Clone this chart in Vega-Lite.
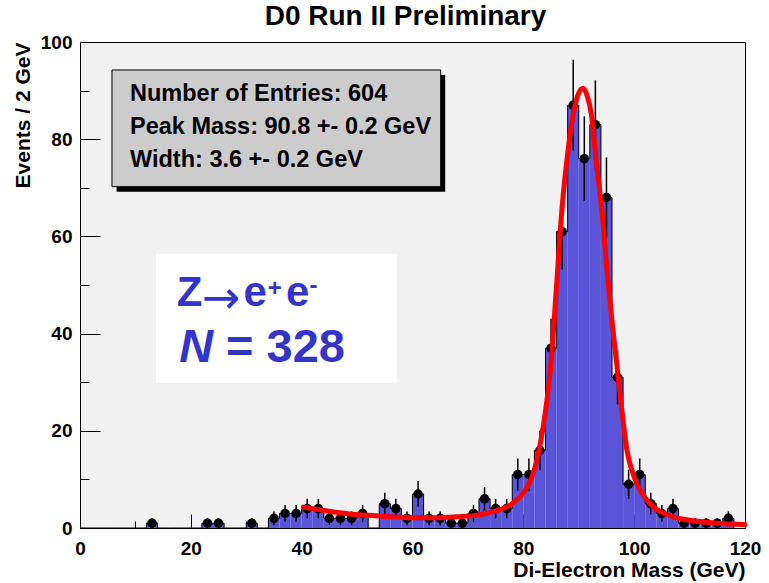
{
  "$schema": "https://vega.github.io/schema/vega-lite/v6.json",
  "width": 665,
  "height": 486,
  "autosize": {"type": "none"},
  "padding": {"left": 80, "top": 42, "right": 24, "bottom": 55},
  "background": "white",
  "config": {
    "view": {"fill": "#f1f1f1", "stroke": "black", "strokeWidth": 1},
    "font": "Liberation Sans"
  },
  "title": {
    "text": "D0 Run II Preliminary",
    "font": "Liberation Sans",
    "fontSize": 28,
    "fontWeight": "bold",
    "color": "black",
    "anchor": "middle",
    "frame": "group",
    "dx": -7,
    "offset": 2
  },
  "datasets": {
    "bins": [
      {"lo": 0, "hi": 2, "c": 1, "n": 0, "elo": 0, "ehi": 0},
      {"lo": 2, "hi": 4, "c": 3, "n": 0, "elo": 0, "ehi": 0},
      {"lo": 4, "hi": 6, "c": 5, "n": 0, "elo": 0, "ehi": 0},
      {"lo": 6, "hi": 8, "c": 7, "n": 0, "elo": 0, "ehi": 0},
      {"lo": 8, "hi": 10, "c": 9, "n": 0, "elo": 0, "ehi": 0},
      {"lo": 10, "hi": 12, "c": 11, "n": 0, "elo": 0, "ehi": 0},
      {"lo": 12, "hi": 14, "c": 13, "n": 1, "elo": 0, "ehi": 2},
      {"lo": 14, "hi": 16, "c": 15, "n": 0, "elo": 0, "ehi": 0},
      {"lo": 16, "hi": 18, "c": 17, "n": 0, "elo": 0, "ehi": 0},
      {"lo": 18, "hi": 20, "c": 19, "n": 0, "elo": 0, "ehi": 0},
      {"lo": 20, "hi": 22, "c": 21, "n": 0, "elo": 0, "ehi": 0},
      {"lo": 22, "hi": 24, "c": 23, "n": 1, "elo": 0, "ehi": 2},
      {"lo": 24, "hi": 26, "c": 25, "n": 1, "elo": 0, "ehi": 2},
      {"lo": 26, "hi": 28, "c": 27, "n": 0, "elo": 0, "ehi": 0},
      {"lo": 28, "hi": 30, "c": 29, "n": 0, "elo": 0, "ehi": 0},
      {"lo": 30, "hi": 32, "c": 31, "n": 1, "elo": 0, "ehi": 2},
      {"lo": 32, "hi": 34, "c": 33, "n": 0, "elo": 0, "ehi": 0},
      {"lo": 34, "hi": 36, "c": 35, "n": 2, "elo": 0.59, "ehi": 3.41},
      {"lo": 36, "hi": 38, "c": 37, "n": 3, "elo": 1.27, "ehi": 4.73},
      {"lo": 38, "hi": 40, "c": 39, "n": 3, "elo": 1.27, "ehi": 4.73},
      {"lo": 40, "hi": 42, "c": 41, "n": 4, "elo": 2, "ehi": 6},
      {"lo": 42, "hi": 44, "c": 43, "n": 4, "elo": 2, "ehi": 6},
      {"lo": 44, "hi": 46, "c": 45, "n": 2, "elo": 0.59, "ehi": 3.41},
      {"lo": 46, "hi": 48, "c": 47, "n": 2, "elo": 0.59, "ehi": 3.41},
      {"lo": 48, "hi": 50, "c": 49, "n": 2, "elo": 0.59, "ehi": 3.41},
      {"lo": 50, "hi": 52, "c": 51, "n": 3, "elo": 1.27, "ehi": 4.73},
      {"lo": 52, "hi": 54, "c": 53, "n": 0, "elo": 0, "ehi": 0},
      {"lo": 54, "hi": 56, "c": 55, "n": 5, "elo": 2.76, "ehi": 7.24},
      {"lo": 56, "hi": 58, "c": 57, "n": 4, "elo": 2, "ehi": 6},
      {"lo": 58, "hi": 60, "c": 59, "n": 2, "elo": 0.59, "ehi": 3.41},
      {"lo": 60, "hi": 62, "c": 61, "n": 7, "elo": 4.35, "ehi": 9.65},
      {"lo": 62, "hi": 64, "c": 63, "n": 2, "elo": 0.59, "ehi": 3.41},
      {"lo": 64, "hi": 66, "c": 65, "n": 2, "elo": 0.59, "ehi": 3.41},
      {"lo": 66, "hi": 68, "c": 67, "n": 1, "elo": 0, "ehi": 2},
      {"lo": 68, "hi": 70, "c": 69, "n": 1, "elo": 0, "ehi": 2},
      {"lo": 70, "hi": 72, "c": 71, "n": 3, "elo": 1.27, "ehi": 4.73},
      {"lo": 72, "hi": 74, "c": 73, "n": 6, "elo": 3.55, "ehi": 8.45},
      {"lo": 74, "hi": 76, "c": 75, "n": 4, "elo": 2, "ehi": 6},
      {"lo": 76, "hi": 78, "c": 77, "n": 4, "elo": 2, "ehi": 6},
      {"lo": 78, "hi": 80, "c": 79, "n": 11, "elo": 7.68, "ehi": 14.32},
      {"lo": 80, "hi": 82, "c": 81, "n": 11, "elo": 7.68, "ehi": 14.32},
      {"lo": 82, "hi": 84, "c": 83, "n": 16, "elo": 12, "ehi": 20},
      {"lo": 84, "hi": 86, "c": 85, "n": 37, "elo": 30.92, "ehi": 43.08},
      {"lo": 86, "hi": 88, "c": 87, "n": 61, "elo": 53.19, "ehi": 68.81},
      {"lo": 88, "hi": 90, "c": 89, "n": 87, "elo": 77.67, "ehi": 96.33},
      {"lo": 90, "hi": 92, "c": 91, "n": 76, "elo": 67.28, "ehi": 84.72},
      {"lo": 92, "hi": 94, "c": 93, "n": 83, "elo": 73.89, "ehi": 92.11},
      {"lo": 94, "hi": 96, "c": 95, "n": 68, "elo": 59.75, "ehi": 76.25},
      {"lo": 96, "hi": 98, "c": 97, "n": 31, "elo": 25.43, "ehi": 36.57},
      {"lo": 98, "hi": 100, "c": 99, "n": 9, "elo": 6, "ehi": 12},
      {"lo": 100, "hi": 102, "c": 101, "n": 11, "elo": 7.68, "ehi": 14.32},
      {"lo": 102, "hi": 104, "c": 103, "n": 5, "elo": 2.76, "ehi": 7.24},
      {"lo": 104, "hi": 106, "c": 105, "n": 3, "elo": 1.27, "ehi": 4.73},
      {"lo": 106, "hi": 108, "c": 107, "n": 4, "elo": 2, "ehi": 6},
      {"lo": 108, "hi": 110, "c": 109, "n": 1, "elo": 0, "ehi": 2},
      {"lo": 110, "hi": 112, "c": 111, "n": 1, "elo": 0, "ehi": 2},
      {"lo": 112, "hi": 114, "c": 113, "n": 1, "elo": 0, "ehi": 2},
      {"lo": 114, "hi": 116, "c": 115, "n": 1, "elo": 0, "ehi": 2},
      {"lo": 116, "hi": 118, "c": 117, "n": 2, "elo": 0.59, "ehi": 3.41},
      {"lo": 118, "hi": 120, "c": 119, "n": 0, "elo": 0, "ehi": 0}
    ],
    "fit": [
      {"m": 40.3, "f": 4.3},
      {"m": 44, "f": 3.6},
      {"m": 48, "f": 3.0},
      {"m": 52, "f": 2.6},
      {"m": 56, "f": 2.3},
      {"m": 60, "f": 2.1},
      {"m": 64, "f": 2.1},
      {"m": 68, "f": 2.3},
      {"m": 72, "f": 2.7},
      {"m": 75, "f": 3.5},
      {"m": 78, "f": 5.0},
      {"m": 80, "f": 7.2},
      {"m": 82, "f": 12},
      {"m": 83, "f": 17},
      {"m": 84, "f": 24},
      {"m": 85, "f": 34},
      {"m": 86, "f": 50},
      {"m": 87, "f": 66},
      {"m": 88, "f": 77},
      {"m": 89, "f": 85},
      {"m": 90, "f": 89.5},
      {"m": 90.8, "f": 90.5},
      {"m": 91.5, "f": 89},
      {"m": 92.3, "f": 85},
      {"m": 93.2, "f": 75},
      {"m": 94.2, "f": 65},
      {"m": 95.1, "f": 53},
      {"m": 96.3, "f": 39.5},
      {"m": 97.5, "f": 27},
      {"m": 98.7, "f": 16},
      {"m": 100, "f": 10.5},
      {"m": 102, "f": 6.2},
      {"m": 104, "f": 3.9},
      {"m": 107, "f": 2.3},
      {"m": 110, "f": 1.6},
      {"m": 115, "f": 1.0},
      {"m": 120, "f": 0.7}
    ]
  },
  "layer": [
    {
      "data": {"name": "bins"},
      "mark": {"type": "rect", "color": "#5954d8", "strokeWidth": 0},
      "encoding": {
        "x": {
          "field": "lo",
          "type": "quantitative",
          "scale": {"domain": [0, 120], "nice": false, "zero": false},
          "axis": {
            "values": [0, 5, 10, 15, 20, 25, 30, 35, 40, 45, 50, 55, 60, 65, 70, 75, 80, 85, 90, 95, 100, 105, 110, 115, 120],
            "labelExpr": "datum.value % 20 === 0 ? datum.label : ''",
            "tickSize": {"condition": {"test": "datum.value % 20 === 0", "value": -14}, "value": -7},
            "tickColor": "black",
            "tickWidth": 1,
            "domain": false,
            "grid": false,
            "labelFont": "Liberation Sans",
            "labelFontWeight": "bold",
            "labelFontSize": 19,
            "labelColor": "black",
            "labelPadding": 25,
            "labelFlush": false,
            "labelOverlap": false,
            "title": "Di-Electron Mass (GeV)",
            "titleAnchor": "end",
            "titleFont": "Liberation Sans",
            "titleFontWeight": "bold",
            "titleFontSize": 21,
            "titleColor": "black",
            "titlePadding": -6
          }
        },
        "x2": {"field": "hi"},
        "y": {
          "field": "n",
          "type": "quantitative",
          "scale": {"domain": [0, 100], "nice": false},
          "axis": {
            "values": [0, 5, 10, 15, 20, 25, 30, 35, 40, 45, 50, 55, 60, 65, 70, 75, 80, 85, 90, 95, 100],
            "labelExpr": "datum.value % 20 === 0 ? datum.label : ''",
            "tickSize": {"condition": {"test": "datum.value % 20 === 0", "value": -20}, "value": -9},
            "tickColor": "black",
            "tickWidth": 1,
            "domain": false,
            "grid": false,
            "labelFont": "Liberation Sans",
            "labelFontWeight": "bold",
            "labelFontSize": 19,
            "labelColor": "black",
            "labelPadding": 28,
            "labelFlush": false,
            "labelOverlap": false,
            "title": "Events / 2 GeV",
            "titleAnchor": "end",
            "titleFont": "Liberation Sans",
            "titleFontWeight": "bold",
            "titleFontSize": 21,
            "titleColor": "black",
            "titlePadding": 7
          }
        },
        "y2": {"datum": 0}
      }
    },
    {
      "data": {"name": "bins"},
      "mark": {"type": "line", "interpolate": "step-after", "color": "black", "strokeWidth": 1},
      "encoding": {
        "x": {"field": "lo", "type": "quantitative"},
        "y": {"field": "n", "type": "quantitative"}
      }
    },
    {
      "data": {"name": "bins"},
      "transform": [{"filter": "datum.n > 0"}],
      "mark": {"type": "rule", "color": "black", "strokeWidth": 1.5},
      "encoding": {
        "x": {"field": "c", "type": "quantitative"},
        "y": {"field": "elo", "type": "quantitative"},
        "y2": {"field": "ehi"}
      }
    },
    {
      "data": {"name": "bins"},
      "transform": [{"filter": "datum.n > 0"}],
      "mark": {"type": "circle", "color": "black", "opacity": 1, "size": 90},
      "encoding": {
        "x": {"field": "c", "type": "quantitative"},
        "y": {"field": "n", "type": "quantitative"}
      }
    },
    {
      "data": {"name": "fit"},
      "mark": {"type": "line", "interpolate": "monotone", "color": "#ff0000", "strokeWidth": 5, "strokeCap": "round"},
      "encoding": {
        "x": {"field": "m", "type": "quantitative"},
        "y": {"field": "f", "type": "quantitative"}
      }
    },
    {
      "data": {"values": [{}]},
      "mark": {"type": "rect", "color": "black"},
      "encoding": {
        "x": {"datum": 6.6},
        "x2": {"datum": 65.9},
        "y": {"datum": 93.2},
        "y2": {"datum": 69.2}
      }
    },
    {
      "data": {"values": [{}]},
      "mark": {"type": "rect", "fill": "#cccccc", "stroke": "black", "strokeWidth": 1},
      "encoding": {
        "x": {"datum": 5.77},
        "x2": {"datum": 65.09},
        "y": {"datum": 94.24},
        "y2": {"datum": 70.23}
      }
    },
    {
      "data": {"values": [{}]},
      "mark": {"type": "text", "align": "left", "baseline": "alphabetic", "font": "Liberation Sans", "fontWeight": "bold", "fontSize": 23.5, "color": "black"},
      "encoding": {"x": {"datum": 9.02}, "y": {"datum": 87.92}, "text": {"value": "Number of Entries: 604"}}
    },
    {
      "data": {"values": [{}]},
      "mark": {"type": "text", "align": "left", "baseline": "alphabetic", "font": "Liberation Sans", "fontWeight": "bold", "fontSize": 23.5, "color": "black"},
      "encoding": {"x": {"datum": 9.02}, "y": {"datum": 81.07}, "text": {"value": "Peak Mass: 90.8 +- 0.2 GeV"}}
    },
    {
      "data": {"values": [{}]},
      "mark": {"type": "text", "align": "left", "baseline": "alphabetic", "font": "Liberation Sans", "fontWeight": "bold", "fontSize": 23.5, "color": "black"},
      "encoding": {"x": {"datum": 9.02}, "y": {"datum": 74.22}, "text": {"value": "Width: 3.6 +- 0.2 GeV"}}
    },
    {
      "data": {"values": [{}]},
      "mark": {"type": "rect", "fill": "white", "strokeWidth": 0},
      "encoding": {
        "x": {"datum": 13.71},
        "x2": {"datum": 57.15},
        "y": {"datum": 56.38},
        "y2": {"datum": 29.9}
      }
    },
    {
      "data": {"values": [{}]},
      "mark": {"type": "text", "align": "left", "baseline": "alphabetic", "font": "Liberation Sans", "fontWeight": "bold", "fontSize": 42, "color": "#3434c8"},
      "encoding": {"x": {"datum": 17.45}, "y": {"datum": 45.68}, "text": {"value": "Z"}}
    },
    {
      "data": {"values": [{}]},
      "mark": {"type": "text", "align": "left", "baseline": "alphabetic", "font": "DejaVu Sans", "fontWeight": "normal", "fontSize": 46, "color": "#3434c8"},
      "encoding": {"x": {"datum": 22.0}, "y": {"datum": 44.2}, "text": {"value": "→"}}
    },
    {
      "data": {"values": [{}]},
      "mark": {"type": "text", "align": "left", "baseline": "alphabetic", "font": "Liberation Sans", "fontWeight": "bold", "fontSize": 42, "color": "#3434c8"},
      "encoding": {"x": {"datum": 29.5}, "y": {"datum": 45.68}, "text": {"value": "e"}}
    },
    {
      "data": {"values": [{}]},
      "mark": {"type": "text", "align": "left", "baseline": "alphabetic", "font": "Liberation Sans", "fontWeight": "bold", "fontSize": 24, "color": "#3434c8"},
      "encoding": {"x": {"datum": 33.9}, "y": {"datum": 47.7}, "text": {"value": "+"}}
    },
    {
      "data": {"values": [{}]},
      "mark": {"type": "text", "align": "left", "baseline": "alphabetic", "font": "Liberation Sans", "fontWeight": "bold", "fontSize": 42, "color": "#3434c8"},
      "encoding": {"x": {"datum": 37.17}, "y": {"datum": 45.68}, "text": {"value": "e"}}
    },
    {
      "data": {"values": [{}]},
      "mark": {"type": "text", "align": "left", "baseline": "alphabetic", "font": "Liberation Sans", "fontWeight": "bold", "fontSize": 24, "color": "#3434c8"},
      "encoding": {"x": {"datum": 41.4}, "y": {"datum": 48.3}, "text": {"value": "-"}}
    },
    {
      "data": {"values": [{}]},
      "mark": {"type": "text", "align": "left", "baseline": "alphabetic", "font": "Liberation Sans", "fontWeight": "bold", "fontStyle": "italic", "fontSize": 47, "color": "#3434c8"},
      "encoding": {"x": {"datum": 17.92}, "y": {"datum": 34.22}, "text": {"value": "N"}}
    },
    {
      "data": {"values": [{}]},
      "mark": {"type": "text", "align": "left", "baseline": "alphabetic", "font": "Liberation Sans", "fontWeight": "bold", "fontSize": 47, "color": "#3434c8"},
      "encoding": {"x": {"datum": 26.35}, "y": {"datum": 34.22}, "text": {"value": "= 328"}}
    }
  ]
}
